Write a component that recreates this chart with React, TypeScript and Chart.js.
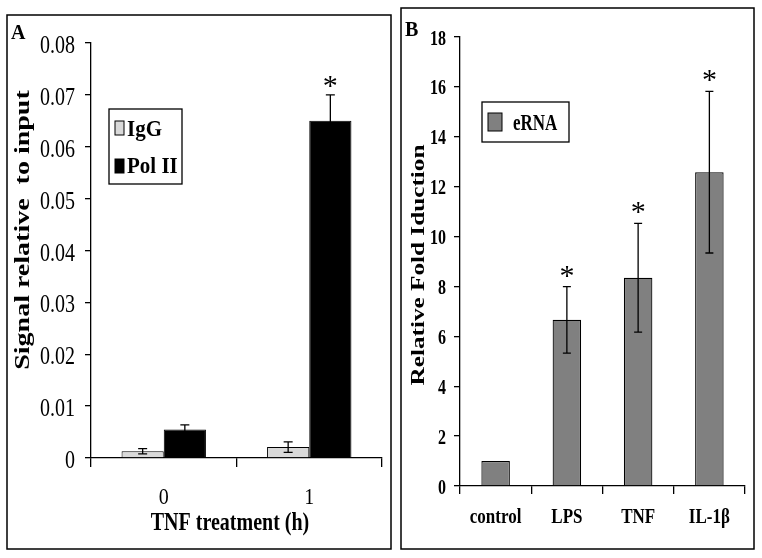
import React, { useEffect, useRef } from "react";
import { Chart, registerables } from "chart.js";

Chart.register(...registerables);

// ---------- Panel A data ----------
const categoriesA = ["0", "1"];
const iggValues = [0.0013, 0.0021];
const iggErrors = [0.0005, 0.001];
const iggSig = [false, false];
const pol2Values = [0.0055, 0.065];
const pol2Errors = [0.0009, 0.005];
const pol2Sig = [false, true];
const yTitleA = "Signal relative  to input";
const xTitleA = "TNF treatment (h)";

// ---------- Panel B data ----------
const categoriesB = ["control", "LPS", "TNF", "IL-1\u03B2"];
const eRNAValues = [1, 6.66, 8.35, 12.58];
const eRNAErrors = [0, 1.33, 2.18, 3.24];
const eRNASig = [false, true, true, true];
const yTitleB = "Relative Fold Iduction";

const FONT = '"Liberation Serif", "Times New Roman", serif';

type TextOpt = { size: number; bold?: boolean; sy?: number; align?: CanvasTextAlign; rot?: boolean };

function txt(ctx: CanvasRenderingContext2D, s: string, x: number, y: number, o: TextOpt) {
  ctx.save();
  ctx.translate(x, y);
  if (o.rot) {
    ctx.rotate(-Math.PI / 2);
    ctx.scale(o.sy || 1, 1);
  } else {
    ctx.scale(1, o.sy || 1);
  }
  ctx.font = `${o.bold ? "bold " : ""}${o.size}px ${FONT}`;
  ctx.textAlign = o.align || "left";
  ctx.textBaseline = "alphabetic";
  ctx.fillStyle = "#000";
  ctx.fillText(s, 0, 0);
  ctx.restore();
}

type Spec = {
  id: string;
  border: [number, number, number, number];
  letter: string;
  letterX: number;
  letterY: number;
  letterSize: number;
  fmtY: (v: number) => string;
  yTick: TextOpt;
  yTickRight: number;
  yTickDy: number;
  xLab: TextOpt;
  xLabY: number;
  yTitle: string;
  yTitleOpt: TextOpt;
  yTitleX: number;
  yTitleY: number;
  xTitle?: string;
  xTitleOpt?: TextOpt;
  xTitleX?: number;
  xTitleY?: number;
  legendBox: [number, number, number, number];
  legendItems: { sq: [number, number, number, number]; tx: number; ty: number }[];
  legendText: TextOpt;
  capW: number;
  starSize: number;
  starGap: number;
};

function makePlugin(p: Spec) {
  return {
    id: p.id,
    afterDatasetsDraw(chart: any) {
      const ctx: CanvasRenderingContext2D = chart.ctx;
      const ys = chart.scales.y;
      ctx.save();
      chart.data.datasets.forEach((ds: any, di: number) => {
        const meta = chart.getDatasetMeta(di);
        meta.data.forEach((bar: any, i: number) => {
          const v = ds.data[i];
          const e = ds.errors[i];
          const x = bar.x;
          const top = ys.getPixelForValue(v + e);
          if (e > 0) {
            const bot = ys.getPixelForValue(v - e);
            ctx.strokeStyle = "#000";
            ctx.lineWidth = 1.3;
            ctx.beginPath();
            ctx.moveTo(x, top);
            ctx.lineTo(x, bot);
            ctx.moveTo(x - p.capW / 2, top);
            ctx.lineTo(x + p.capW / 2, top);
            ctx.moveTo(x - p.capW / 2, bot);
            ctx.lineTo(x + p.capW / 2, bot);
            ctx.stroke();
          }
          if (ds.stars[i]) {
            const cy = top - p.starGap;
            txt(ctx, "*", x, cy + 0.47 * p.starSize, { size: p.starSize, align: "center" });
          }
        });
      });
      ctx.restore();
    },
    afterDraw(chart: any) {
      const ctx: CanvasRenderingContext2D = chart.ctx;
      const xs = chart.scales.x;
      const ys = chart.scales.y;
      ctx.save();
      ctx.strokeStyle = "#000";
      ctx.lineWidth = 1.5;
      const [bx, by, bw, bh] = p.border;
      ctx.strokeRect(bx, by, bw, bh);
      txt(ctx, p.letter, p.letterX, p.letterY, { size: p.letterSize, bold: true });
      ys.ticks.forEach((t: any) => {
        const py = ys.getPixelForValue(t.value);
        txt(ctx, p.fmtY(t.value), p.yTickRight, py + p.yTickDy, { ...p.yTick, align: "right" });
      });
      (chart.data.labels as string[]).forEach((l, i) => {
        txt(ctx, l, xs.getPixelForTick(i), p.xLabY, { ...p.xLab, align: "center" });
      });
      txt(ctx, p.yTitle, p.yTitleX, p.yTitleY, { ...p.yTitleOpt, rot: true, align: "center" });
      if (p.xTitle && p.xTitleOpt) {
        txt(ctx, p.xTitle, p.xTitleX!, p.xTitleY!, { ...p.xTitleOpt, align: "center" });
      }
      const [lx, ly, lw, lh] = p.legendBox;
      ctx.lineWidth = 1.3;
      ctx.strokeRect(lx, ly, lw, lh);
      chart.data.datasets.forEach((ds: any, di: number) => {
        const it = p.legendItems[di];
        if (!it) return;
        const [sx, sy, sw, sh] = it.sq;
        ctx.fillStyle = ds.backgroundColor;
        ctx.fillRect(sx, sy, sw, sh);
        ctx.lineWidth = 1;
        ctx.strokeStyle = "#000";
        ctx.strokeRect(sx, sy, sw, sh);
        txt(ctx, ds.label, it.tx, it.ty, p.legendText);
      });
      ctx.restore();
    },
  };
}

function axisCommon(tickLength: number) {
  return {
    grid: {
      display: true,
      drawOnChartArea: false,
      drawTicks: true,
      tickLength,
      color: "#000",
      lineWidth: 1.3,
    },
    border: { display: true, color: "#000", width: 1.3 },
  };
}

const specA: Spec = {
  id: "panelA",
  border: [7, 15, 384, 534],
  letter: "A",
  letterX: 11,
  letterY: 39,
  letterSize: 20,
  fmtY: (v) => (v === 0 ? "0" : v.toFixed(2)),
  yTick: { size: 20, sy: 1.25 },
  yTickRight: 75,
  yTickDy: 10,
  xLab: { size: 20, sy: 1.2 },
  xLabY: 504,
  yTitle: yTitleA,
  yTitleOpt: { size: 20, bold: true, sy: 1.4 },
  yTitleX: 29,
  yTitleY: 230,
  xTitle: xTitleA,
  xTitleOpt: { size: 20, bold: true, sy: 1.25 },
  xTitleX: 230,
  xTitleY: 530,
  legendBox: [109, 109, 73, 75],
  legendItems: [
    { sq: [115, 121, 9, 14], tx: 127, ty: 136 },
    { sq: [115, 159, 9, 14], tx: 127, ty: 173 },
  ],
  legendText: { size: 21, bold: true, sy: 1.05 },
  capW: 9,
  starSize: 30,
  starGap: 14,
};

const OX = 396;
const specB: Spec = {
  id: "panelB",
  border: [401 - OX, 8, 353, 541],
  letter: "B",
  letterX: 405 - OX,
  letterY: 36,
  letterSize: 20,
  fmtY: (v) => String(Math.round(v)),
  yTick: { size: 16, bold: true, sy: 1.35 },
  yTickRight: 446 - OX,
  yTickDy: 7.5,
  xLab: { size: 17, bold: true, sy: 1.25 },
  xLabY: 523,
  yTitle: yTitleB,
  yTitleOpt: { size: 18, bold: true, sy: 1.4 },
  yTitleX: 424 - OX,
  yTitleY: 265,
  legendBox: [482 - OX, 102, 87, 40],
  legendItems: [{ sq: [488 - OX, 113, 14, 18], tx: 513 - OX, ty: 130 }],
  legendText: { size: 17, bold: true, sy: 1.3 },
  capW: 8,
  starSize: 30,
  starGap: 16,
};

export default function App() {
  const refA = useRef<HTMLCanvasElement>(null);
  const refB = useRef<HTMLCanvasElement>(null);

  useEffect(() => {
    document.body.style.margin = "0";
    const chartA = new Chart(refA.current as HTMLCanvasElement, {
      type: "bar",
      data: {
        labels: categoriesA,
        datasets: [
          {
            label: "IgG",
            data: iggValues,
            backgroundColor: "#d9d9d9",
            borderColor: "#000",
            borderWidth: 1,
            errors: iggErrors,
            stars: iggSig,
          } as any,
          {
            label: "Pol II",
            data: pol2Values,
            backgroundColor: "#000",
            borderColor: "#000",
            borderWidth: 1,
            errors: pol2Errors,
            stars: pol2Sig,
          } as any,
        ],
      },
      options: {
        animation: false,
        responsive: false,
        devicePixelRatio: 1,
        layout: { padding: { left: 0, top: 43, right: 14, bottom: 0 } },
        datasets: { bar: { categoryPercentage: 0.58, barPercentage: 1 } },
        plugins: { legend: { display: false }, tooltip: { enabled: false } },
        scales: {
          x: {
            ...axisCommon(9),
            ticks: { display: false },
            afterFit: (s: any) => {
              s.height = 100;
            },
          } as any,
          y: {
            ...axisCommon(6),
            min: 0,
            max: 0.08,
            ticks: { display: false, stepSize: 0.01 },
            afterFit: (s: any) => {
              s.width = 91;
            },
          } as any,
        },
      },
      plugins: [makePlugin(specA)],
    });

    const chartB = new Chart(refB.current as HTMLCanvasElement, {
      type: "bar",
      data: {
        labels: categoriesB,
        datasets: [
          {
            label: "eRNA",
            data: eRNAValues,
            backgroundColor: "#808080",
            borderColor: "#000",
            borderWidth: 1.2,
            errors: eRNAErrors,
            stars: eRNASig,
          } as any,
        ],
      },
      options: {
        animation: false,
        responsive: false,
        devicePixelRatio: 1,
        layout: { padding: { left: 0, top: 37, right: 17, bottom: 0 } },
        datasets: { bar: { categoryPercentage: 0.4, barPercentage: 1 } },
        plugins: { legend: { display: false }, tooltip: { enabled: false } },
        scales: {
          x: {
            ...axisCommon(8),
            ticks: { display: false },
            afterFit: (s: any) => {
              s.height = 72;
            },
          } as any,
          y: {
            ...axisCommon(6),
            min: 0,
            max: 18,
            ticks: { display: false, stepSize: 2 },
            afterFit: (s: any) => {
              s.width = 64;
            },
          } as any,
        },
      },
      plugins: [makePlugin(specB)],
    });

    return () => {
      chartA.destroy();
      chartB.destroy();
    };
  }, []);

  return (
    <div style={{ position: "absolute", left: 0, top: 0, width: 762, height: 558, background: "#fff" }}>
      <canvas
        ref={refA}
        width={396}
        height={558}
        style={{ position: "absolute", left: 0, top: 0, width: 396, height: 558 }}
      />
      <canvas
        ref={refB}
        width={366}
        height={558}
        style={{ position: "absolute", left: OX, top: 0, width: 366, height: 558 }}
      />
    </div>
  );
}
